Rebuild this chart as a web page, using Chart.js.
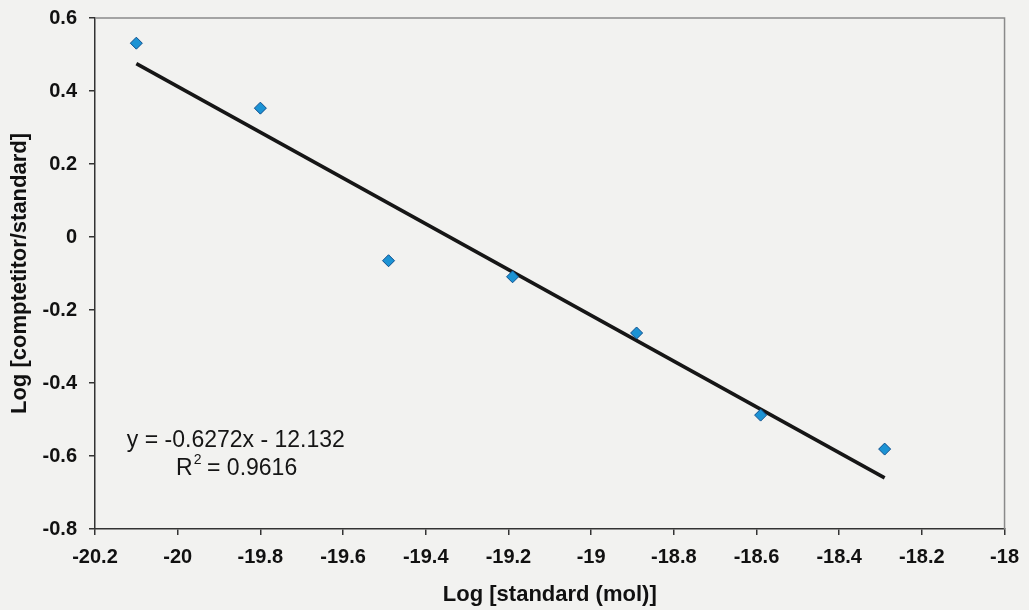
<!DOCTYPE html>
<html>
<head>
<meta charset="utf-8">
<script src="https://cdn.jsdelivr.net/npm/chart.js@4.4.1/dist/chart.umd.min.js"></script>
<style>
	html, body { margin: 0; padding: 0; background: #f2f2f0; }
	#wrap { width: 1029px; height: 610px; position: relative; }
</style>
</head>
<body>
<div id="wrap"><canvas id="chart" width="1029" height="610"></canvas></div>
<script>
// values
var log_standard = [-20.1, -19.8, -19.49, -19.19, -18.89, -18.59, -18.29];
var log_ratio = [0.531, 0.353, -0.065, -0.109, -0.263, -0.488, -0.581];
var trend_x = [-20.1, -18.29];
var trend_y = [0.475, -0.66];
var equation_text = "y = -0.6272x - 12.132";
var r2_text = "0.9616";

var FONT = "'Liberation Sans', Arial, sans-serif";

var points = log_standard.map(function(x, i) { return { x: x, y: log_ratio[i] }; });
var trend = trend_x.map(function(x, i) { return { x: x, y: trend_y[i] }; });

// grey frame on top/right + background
var frame_plugin = {
	id: 'frame',
	beforeDraw: function(chart) {
		var ctx = chart.ctx;
		ctx.save();
		ctx.fillStyle = '#f2f2f0';
		ctx.fillRect(0, 0, chart.width, chart.height);
		ctx.restore();
	},
	beforeDatasetsDraw: function(chart) {
		var a = chart.chartArea, ctx = chart.ctx;
		ctx.save();
		ctx.strokeStyle = '#8a8a8a';
		ctx.lineWidth = 1.5;
		ctx.beginPath();
		ctx.moveTo(a.left, a.top);
		ctx.lineTo(a.right, a.top);
		ctx.lineTo(a.right, a.bottom);
		ctx.stroke();
		ctx.restore();
	}
};

// trendline equation label
var label_plugin = {
	id: 'eqlabel',
	afterDatasetsDraw: function(chart) {
		var ctx = chart.ctx, xs = chart.scales.x, ys = chart.scales.y;
		ctx.save();
		ctx.fillStyle = '#151515';
		ctx.textBaseline = 'middle';
		ctx.font = '23px ' + FONT;
		ctx.fillText(equation_text, xs.getPixelForValue(-20.123), ys.getPixelForValue(-0.559));
		var rx = xs.getPixelForValue(-20.004), ry = ys.getPixelForValue(-0.636);
		ctx.fillText('R', rx, ry);
		var w = ctx.measureText('R').width;
		ctx.font = '14px ' + FONT;
		ctx.fillText('2', rx + w + 1, ry - 9);
		ctx.font = '23px ' + FONT;
		ctx.fillText(' = ' + r2_text, rx + w + 8, ry);
		ctx.restore();
	}
};

new Chart(document.getElementById('chart'), {
	type: 'scatter',
	data: {
		datasets: [{
			data: points,
			pointStyle: 'rectRot',
			pointRadius: 6,
			pointHoverRadius: 6,
			backgroundColor: '#1c93d4',
			borderColor: '#0d4f8e',
			borderWidth: 1
		}, {
			type: 'line',
			data: trend,
			showLine: true,
			pointRadius: 0,
			borderColor: '#161616',
			borderWidth: 3.5,
			fill: false
		}]
	},
	options: {
		responsive: false,
		animation: false,
		layout: { padding: { top: 18, right: 24, left: 0, bottom: 0 } },
		plugins: { legend: { display: false }, tooltip: { enabled: false } },
		scales: {
			x: {
				type: 'linear',
				min: -20.2,
				max: -18,
				afterFit: function(s) { s.height = 81; },
				ticks: {
					stepSize: 0.2,
					padding: 10,
					color: '#111',
					font: { family: FONT, size: 20, weight: 'bold' },
					callback: function(v) { return Math.round(v * 10) / 10; }
				},
				grid: { drawOnChartArea: false, drawTicks: true, tickLength: 6, color: '#333', lineWidth: 1.5 },
				border: { color: '#333', width: 1.5 },
				title: {
					display: true,
					text: 'Log [standard (mol)]',
					color: '#111',
					font: { family: FONT, size: 22, weight: 'bold' },
					padding: { top: 10, bottom: 2 }
				}
			},
			y: {
				min: -0.8,
				max: 0.6,
				afterFit: function(s) { s.width = 95; s.paddingTop = 0; s.paddingBottom = 0; },
				ticks: {
					stepSize: 0.2,
					padding: 12,
					color: '#111',
					font: { family: FONT, size: 20, weight: 'bold' },
					callback: function(v) { return Math.round(v * 10) / 10; }
				},
				grid: { drawOnChartArea: false, drawTicks: true, tickLength: 6, color: '#333', lineWidth: 1.5 },
				border: { color: '#333', width: 1.5 },
				title: {
					display: true,
					text: 'Log [comptetitor/standard]',
					color: '#111',
					font: { family: FONT, size: 22, weight: 'bold' },
					padding: { top: 7, bottom: 0 }
				}
			}
		}
	},
	plugins: [frame_plugin, label_plugin]
});
</script>
</body>
</html>
